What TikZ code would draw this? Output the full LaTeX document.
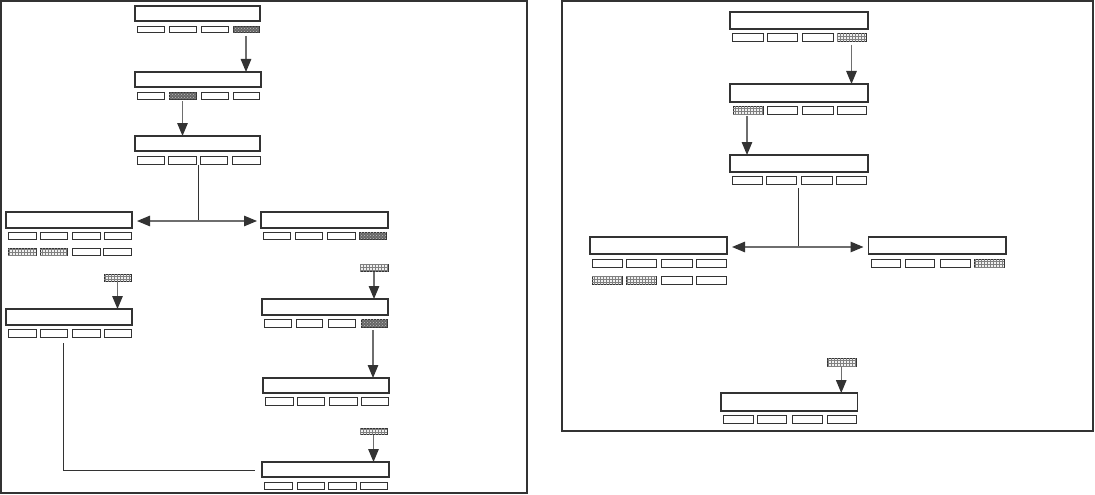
\documentclass[tikz,border=0pt]{standalone}
\usetikzlibrary{arrows.meta,patterns}
\definecolor{ink}{HTML}{333333}
\definecolor{shaft}{HTML}{6E6E6E}
\tikzset{
  frame/.style={draw=ink,line width=1.8pt},
  bigbox/.style={draw=ink,line width=1.2pt,fill=white,inner sep=0pt,outer sep=0pt},
  sub/.style={draw=ink,line width=1pt,fill=white,inner sep=0pt,outer sep=0pt},
  dark/.style={sub,fill=black!60,postaction={pattern=crosshatch dots,pattern color=white!75!black}},
  light/.style={sub,fill=black!6,postaction={pattern=grid,pattern color=black!50}},
  arr/.style={draw=shaft,line width=1.3pt,-{Triangle[length=13pt,width=10.5pt,color=ink]}},
  darr/.style={draw=shaft,line width=1.3pt,{Triangle[length=13pt,width=10.5pt,color=ink]}-{Triangle[length=13pt,width=10.5pt,color=ink]}},
  link/.style={draw=ink,line width=1pt}
}
\newcommand\bx[6]{\node[#6,minimum width={(#4-#2)*1pt},minimum height={(#5-#3)*1pt}] (#1) at ({(#2+#4)/2},{(#3+#5)/2}) {};}
\begin{document}
\begin{tikzpicture}[x=1pt,y=-1pt]
\useasboundingbox (0,0) rectangle (1095,495);
\draw[frame] (1,1) rectangle (527,493);
\draw[frame] (562,1) rectangle (1093,431);
% ---------- left panel ----------
\bx{A}{135}{6}{260}{21}{bigbox}
\bx{a1}{137}{27}{164}{33}{sub}\bx{a2}{169}{27}{196}{33}{sub}\bx{a3}{201}{27}{228}{33}{sub}\bx{a4}{233}{27}{259}{33}{dark}
\bx{B}{135}{72}{261}{87}{bigbox}
\bx{b1}{137}{92}{164}{99}{sub}\bx{b2}{169}{92}{196}{99}{dark}\bx{b3}{201}{92}{228}{99}{sub}\bx{b4}{233}{92}{259}{99}{sub}
\bx{C}{135}{136}{260}{151}{bigbox}
\bx{c1}{137}{156}{164}{164}{sub}\bx{c2}{168}{156}{196}{164}{sub}\bx{c3}{200}{156}{227}{164}{sub}\bx{c4}{232}{156}{260}{164}{sub}
\bx{D}{6}{212}{132}{228}{bigbox}
\bx{d1}{8}{232}{36}{239}{sub}\bx{d2}{40}{232}{67}{239}{sub}\bx{d3}{72}{232}{100}{239}{sub}\bx{d4}{104}{232}{131}{239}{sub}
\bx{d5}{8}{248}{36}{255}{light}\bx{d6}{40}{248}{67}{255}{light}\bx{d7}{72}{248}{100}{255}{sub}\bx{d8}{103}{248}{131}{255}{sub}
\bx{s1}{104}{274}{131}{281}{light}
\bx{F}{6}{309}{132}{325}{bigbox}
\bx{f1}{8}{329}{36}{337}{sub}\bx{f2}{40}{329}{67}{337}{sub}\bx{f3}{72}{329}{100}{337}{sub}\bx{f4}{104}{329}{131}{337}{sub}
\bx{E}{261}{212}{388}{228}{bigbox}
\bx{e1}{263}{232}{290}{239}{sub}\bx{e2}{295}{232}{322}{239}{sub}\bx{e3}{327}{232}{355}{239}{sub}\bx{e4}{359}{232}{386}{239}{dark}
\bx{s2}{360}{264}{388}{271}{light}
\bx{G}{262}{299}{388}{315}{bigbox}
\bx{g1}{264}{319}{291}{327}{sub}\bx{g2}{296}{319}{322}{327}{sub}\bx{g3}{328}{319}{355}{327}{sub}\bx{g4}{361}{319}{387}{327}{dark}
\bx{H}{263}{378}{389}{393}{bigbox}
\bx{h1}{265}{397}{293}{405}{sub}\bx{h2}{297}{397}{324}{405}{sub}\bx{h3}{329}{397}{357}{405}{sub}\bx{h4}{361}{397}{388}{405}{sub}
\bx{s3}{360}{428}{387}{434}{light}
\bx{I}{262}{462}{389}{477}{bigbox}
\bx{i1}{264}{482}{292}{489}{sub}\bx{i2}{297}{482}{324}{489}{sub}\bx{i3}{328}{482}{356}{489}{sub}\bx{i4}{360}{482}{387}{489}{sub}
% connectors left
\draw[arr] ([yshift=-3pt]a4.south) -- (a4.south |- B.north);
\draw[arr] ([yshift=-2pt]b2.south) -- (b2.south |- C.north);
\coordinate (cj) at (198,165);
\coordinate (cm) at (198,221);
\draw[link] (cj) -- (cm);
\draw[darr,shorten <=5pt,shorten >=4pt] (cm -| D.east) -- (cm -| E.west);
\draw[arr] ([yshift=-1pt]s1.south) -- (s1.south |- F.north);
\draw[arr] ([yshift=-1pt]s2.south) -- (s2.south |- G.north);
\draw[arr] ([xshift=-1pt,yshift=-3pt]g4.south) -- ([xshift=-1pt]g4.south |- H.north);
\draw[arr] ([yshift=-1pt]s3.south) -- (s3.south |- I.north);
\coordinate (fl) at (63,343);
\coordinate (fc) at (63,470);
\draw[link] (fl) -- (fc) -- ([xshift=-7pt]fc -| I.west);
% ---------- right panel ----------
\bx{R1}{730}{12}{868}{29}{bigbox}
\bx{p1}{732}{34}{763}{42}{sub}\bx{p2}{767}{34}{797}{42}{sub}\bx{p3}{802}{34}{833}{42}{sub}\bx{p4}{837}{34}{866}{42}{light}
\bx{R2}{730}{84}{868}{102}{bigbox}
\bx{q1}{733}{106}{763}{114}{light}\bx{q2}{767}{106}{797}{114}{sub}\bx{q3}{802}{106}{833}{114}{sub}\bx{q4}{837}{106}{866}{114}{sub}
\bx{R3}{730}{155}{868}{172}{bigbox}
\bx{t1}{732}{176}{762}{184}{sub}\bx{t2}{766}{176}{796}{184}{sub}\bx{t3}{801}{176}{832}{184}{sub}\bx{t4}{836}{176}{866}{184}{sub}
\bx{R4}{590}{237}{727}{254}{bigbox}
\bx{u1}{592}{259}{622}{267}{sub}\bx{u2}{626}{259}{656}{267}{sub}\bx{u3}{661}{259}{692}{267}{sub}\bx{u4}{696}{259}{726}{267}{sub}
\bx{u5}{592}{276}{622}{284}{light}\bx{u6}{626}{276}{656}{284}{light}\bx{u7}{661}{276}{692}{284}{sub}\bx{u8}{696}{276}{726}{284}{sub}
\bx{R5}{868.5}{237}{1006}{254}{bigbox}
\bx{v1}{871}{259}{900}{267}{sub}\bx{v2}{905}{259}{934}{267}{sub}\bx{v3}{940}{259}{970}{267}{sub}\bx{v4}{974}{259}{1004}{267}{light}
\bx{s4}{827.5}{358}{856}{366}{light}
\bx{R6}{721}{393}{857.6}{411}{bigbox}
\bx{w1}{723.5}{415}{753}{423}{sub}\bx{w2}{757}{415}{786.6}{423}{sub}\bx{w3}{792}{415}{822}{423}{sub}\bx{w4}{827.5}{415}{856.6}{423}{sub}
% connectors right
\draw[arr] ([yshift=-3pt]p4.south) -- (p4.south |- R2.north);
\draw[arr] ([xshift=-1pt,yshift=-2pt]q1.south) -- ([xshift=-1pt]q1.south |- R3.north);
\coordinate (rj) at (798,188);
\coordinate (rm) at (798,247);
\draw[link] (rj) -- (rm);
\draw[darr,shorten <=5pt,shorten >=5pt] (rm -| R4.east) -- (rm -| R5.west);
\draw[arr] ([xshift=-0.5pt,yshift=-1pt]s4.south) -- ([xshift=-0.5pt]s4.south |- R6.north);
\end{tikzpicture}
\end{document}
